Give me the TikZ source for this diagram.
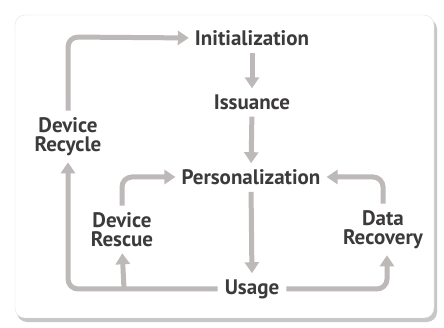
\documentclass[tikz,border=0pt]{standalone}
\usepackage{fontspec}
\setmainfont{PT Sans}
\usetikzlibrary{arrows.meta}
\definecolor{arr}{HTML}{BDB9B8}
\definecolor{txt}{HTML}{3C3A3A}
\tikzset{
  lbl/.style={font=\bfseries\fontsize{21}{19}\selectfont, text=txt, align=center, inner sep=0pt},
  flow/.style={draw=arr, line width=5pt, rounded corners=10pt, shorten >=6pt, shorten <=7pt,
    -{Triangle[width=14pt,length=11pt]}},
}
\begin{document}
\begin{tikzpicture}[x=1pt,y=-1pt]
\fill[white] (0,0) rectangle (444,328);
\useasboundingbox (0,0) rectangle (444,328);
\fill[black!22, rounded corners=10pt] (17,19) rectangle (437,322);
\fill[white, rounded corners=10pt, draw=black!10] (15,15) rectangle (434,318);
\node[lbl] (init) at (252,38) {Initialization};
\node[lbl] (iss) at (252,102) {Issuance};
\node[lbl] (pers) at (251,177) {Personalization};
\node[lbl] (use) at (252,289) {Usage};
\node[lbl] (recy) at (68,137) {Device\\Recycle};
\node[lbl] (resc) at (122,230) {Device\\Rescue};
\node[lbl] (rec) at (383,230) {Data\\Recovery};
\coordinate (ul) at (68,289);
\coordinate (br) at (124,289);
\coordinate (ur) at (387,289);
\draw[flow] (recy.north) -- (68,37) -- (init.west);
\draw[flow] (init.south) -- (iss.north);
\draw[flow] (iss.south) -- (pers.north);
\draw[flow] (pers.south) -- (use.north);
\draw[flow] (use.west) -- (ul) -- (recy.south);
\draw[flow, shorten <=0pt] (br) -- (resc.south);
\draw[flow] (resc.north) -- (122,177) -- (pers.west);
\draw[flow] (use.east) -- (ur) -- (ur |- rec.south);
\draw[flow] (rec.north) -- (383,177) -- (pers.east);
\end{tikzpicture}
\end{document}
